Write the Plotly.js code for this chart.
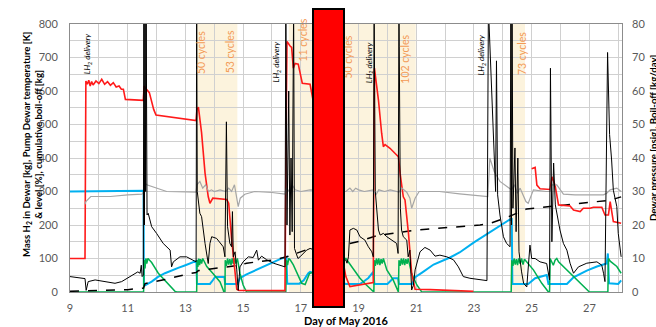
<!DOCTYPE html>
<html><head><meta charset="utf-8">
<script src="https://cdn.plot.ly/plotly-3.0.1.min.js"></script>
<style>html,body{margin:0;padding:0;background:#fff}#chart{width:656px;height:327px}</style>
</head><body><div id="chart"></div>
<script>
// Mass H2 in Dewar [kg] (red)
const massDays = [9,9.52,9.55,9.6,9.65,9.7,9.75,9.8,9.9,10.0,10.1,10.2,10.3,10.4,10.5,10.6,10.7,10.78,10.85,10.92,11.54,11.57,11.62,11.75,11.9,11.98,13.37,13.4,13.45,13.56,13.68,13.79,13.85,13.95,14.43,14.5,14.6,14.72,14.78,14.85,16.45,16.5,16.52,16.62,16.68,16.74,16.8,16.91,17.05,17.32,18.56,18.7,19.05,19.51,19.55,19.69,19.8,19.86,19.92,19.97,20.09,20.32,20.38,20.44,20.55,20.61,20.73,20.84,20.96,21.48,22.98,24.0,25.0,25.12,25.18,25.29,25.64,25.7,25.81,25.93,26.33,26.45,26.68,26.79,27.02,27.14,27.43,27.54,27.66,27.72,27.83,28.1];
const massKg = [100,100,630,620,632,615,628,618,630,622,635,620,628,617,625,612,615,605,605,575,572,615,608,595,545,528,512,545,552,475,355,285,265,280,276,265,160,66,8,5,4,573,748,735,730,668,682,680,623,620,46,16,21,28,668,573,474,434,440,437,429,409,404,354,284,275,175,56,8,7,2,null,368,372,319,308,306,344,319,260,257,245,240,250,250,253,253,230,230,270,210,205];

// Pump Dewar temperature [K] (blue)
const tempDays = [9,11.55,11.56,11.6,11.83,12.05,12.29,12.5,12.75,13.0,13.22,13.38,13.4,13.85,13.95,14.03,14.35,14.38,14.8,14.89,15.1,15.3,15.47,15.75,16.05,16.3,16.5,16.53,16.95,17.1,17.26,17.32,18.56,19.05,19.2,19.34,19.51,19.55,20.0,20.2,20.37,20.4,20.85,20.96,21.2,21.6,22.17,22.5,23.0,23.5,23.9,24.31,24.33,24.88,25.12,25.52,25.58,26.22,26.45,26.91,27.26,27.6,27.64,27.68,28.0,28.1];
const tempK = [300,302,22,20,31,45,56,64,72,80,87,93,24,24,35,45,45,24,24,41,52,60,67,79,90,99,105,25,25,35,56,60,24,24,33,42,60,24,24,41,41,24,24,44,58,82,103,118,148,175,198,220,24,24,41,51,24,24,44,64,76,85,115,26,24,35];

// Level [%] (green)
const levelDays = [9,11.55,11.57,11.6,11.63,11.66,11.7,11.83,12.06,12.25,12.41,12.64,12.7,13.39,13.4,13.43,13.46,13.49,13.52,13.56,13.6,13.74,13.97,14.2,14.31,14.33,14.37,14.38,14.42,14.46,14.5,14.54,14.58,14.62,14.66,14.7,14.75,14.8,14.89,15.0,15.12,16.48,16.5,16.54,16.58,16.63,16.74,16.87,17.03,17.15,17.3,18.56,18.6,18.82,19.05,19.28,19.51,19.53,19.55,19.58,19.62,19.66,19.7,19.74,19.78,19.82,19.86,19.98,20.2,20.38,20.4,20.44,20.48,20.52,20.56,20.6,20.64,20.68,20.72,20.76,20.84,21.02,21.19,24.29,24.31,24.35,24.39,24.43,24.47,24.51,24.55,24.6,24.65,24.7,24.75,25.06,25.35,25.58,25.62,25.64,25.7,25.75,25.81,25.87,25.93,26.22,26.56,27.0,27.64,27.66,27.72,27.95,28.1];
const levelPct = [0,0,95,70,100,85,100,88,56,38,24,2,0,0,95,75,100,80,98,85,100,76,54,30,6,0,0,95,78,100,82,98,80,100,84,100,85,100,56,21,0,0,95,80,100,96,81,56,26,22,55,100,95,66,41,20,2,0,95,78,100,82,100,80,98,85,100,66,36,0,95,78,100,82,100,80,98,84,100,82,55,21,0,0,95,78,100,82,98,80,100,84,100,82,98,66,26,0,0,100,88,80,95,100,90,66,36,0,0,100,92,76,56];

// Cumulative boil-off [kg] (black dashed)
const boilDays = [9,10,11,11.55,11.6,11.77,12.29,13.04,13.37,13.45,14.0,14.89,15.12,16.05,16.51,17.32,18.56,19.05,19.63,20.67,21.02,23.21,23.56,24.13,24.6,24.83,25.75,26.45,26.91,27.72,28.1];
const boilKg = [2,4,7,12,25,28,37,53,58,64,70,80,86,96,105,130,142,152,168,180,185,200,205,222,238,248,256,262,266,274,284];

// Dewar pressure [psig] (black, right axis)
const presDays = [9.0,9.2,9.4,9.52,9.56,9.6,9.63,9.87,10.21,10.56,10.79,10.95,11.08,11.25,11.35,11.43,11.47,11.5,11.54,11.56,11.58,11.6,11.62,11.64,11.67,11.71,11.83,12.0,12.23,12.47,12.52,12.58,12.81,13.04,13.27,13.37,13.39,13.41,13.5,13.56,13.68,13.74,13.79,13.85,13.91,14.08,14.31,14.37,14.42,14.46,14.54,14.6,14.63,14.66,14.72,14.78,14.83,14.89,15.0,15.18,15.35,15.47,15.53,15.64,15.82,16.05,16.28,16.45,16.48,16.52,16.58,16.62,16.66,16.7,16.75,16.78,16.9,16.97,17.2,17.32,18.56,18.6,18.65,18.7,18.82,18.94,19.05,19.22,19.34,19.46,19.51,19.54,19.58,19.63,19.69,19.75,19.86,19.98,20.15,20.32,20.37,20.4,20.45,20.49,20.55,20.67,20.72,20.78,20.84,20.9,20.96,21.13,21.3,21.48,21.65,21.82,22.06,22.29,22.46,22.63,22.86,23.21,23.45,23.5,23.55,23.6,23.67,23.75,23.78,23.82,23.9,24.02,24.13,24.25,24.28,24.3,24.32,24.35,24.42,24.46,24.52,24.56,24.65,24.72,24.83,24.94,25.0,25.12,25.29,25.52,25.62,25.65,25.7,25.76,25.82,25.87,25.98,26.1,26.22,26.33,26.45,26.62,26.91,27.26,27.43,27.49,27.54,27.63,27.66,27.7,27.77,27.83,27.95,28.0,28.1];
const presPsig = [4.6,4.3,4.1,4.0,0.5,2.0,3.1,3.6,3.1,2.6,3.1,4.0,4.6,5.6,6.0,5.6,8.0,4.6,5.0,85,20,85,30,85,23,23.5,19.5,17.5,14.5,12.5,7.5,9.0,10.5,10.5,9.6,9.0,85,30,23.5,22.5,14.5,10.5,8.5,14.5,16.5,16,13.5,10.5,50.8,19.5,14.5,13.5,24,10.5,12,6.6,0.5,7.5,9.0,10.5,10.3,12.5,9.5,10.7,9.6,8.6,8.1,7.5,85,20,60,17,40,18,85,13,10,10.5,12.5,13,9.5,8.6,10.5,18.5,19,18.5,16.5,15.5,13.5,12,10.5,85,30,23.5,18.5,17,17.5,16.5,15.5,14.5,11.5,85,25,18.5,16.5,15.5,10.5,12.5,0.6,2,6.6,12,13.3,12.5,10.7,11,10.5,9.6,7.5,4.6,4.1,3.6,3.4,85,75,60,47,30,69,29,23,16.5,14.5,13.5,85,20,85,25,43,18,40,12,6,2.6,1.5,14,10,10,9,8.5,3.6,66.8,15,38.5,26,23.5,18.5,14.5,12.5,8.6,5.6,7.5,8.6,9,8,5.6,3.1,71.5,62,47,39.4,30.4,25.5,17.5,10.5];

// Boil-off [kg/day] (grey, right axis)
const rateDays = [9.52,9.55,9.72,10.4,11.0,11.5,11.56,11.6,11.66,12.0,12.35,13.37,13.4,13.5,13.6,13.7,13.8,13.9,14.0,14.2,14.4,14.5,14.6,14.7,14.75,14.83,14.9,15.06,15.4,16.0,16.45,16.5,16.6,16.7,16.8,17.0,17.32,18.56,18.7,18.8,18.9,19.0,19.2,19.5,19.6,19.7,19.9,20.1,20.4,20.5,20.67,20.78,20.84,20.96,21.1,21.8,22.5,23.21,23.48,23.55,23.7,23.9,24.2,24.3,24.4,24.5,24.6,24.7,24.8,24.88,25.0,25.06,25.5,25.64,25.7,25.87,26.1,26.5,27.0,27.49,27.6,27.72,27.95,28.1];
const rateKgDay = [26.2,27,28.5,28.5,29,29.2,30,32.5,32,31,30,29.8,32,33,31,32,30,30.5,30,30.5,30,31,30,32,29,25.5,28,29.2,30,29.7,29.2,31,30,32,30.5,30,30.5,30,31,30,31,30.5,30,30.5,29,30.5,30,30.5,29.8,31,29.8,28,25,28,30,30,29.3,28.7,28.5,40,36,33,31,30.5,32,29.5,31,29,27,26.5,29.5,30.5,30,30,32,32,29.2,29,29,29,29.5,30.5,31,30];

// Shaded test-campaign periods and text labels
const bandStart = [13.40, 16.58, 24.25];
const bandEnd   = [14.80, 20.98, 24.77];
const noteText = ['LH<sub>2</sub> delivery','LH<sub>2</sub> delivery','LH<sub>2</sub> delivery','LH<sub>2</sub> delivery','50 cycles','53 cycles','11 cycles','50 cycles','102 cycles','73 cycles'];
const noteDay  = [9.62,16.17,19.36,23.27,13.56,14.55,17.09,18.6,20.58,24.66];
const noteVal  = [712,688,686,708,715,716,752,700,694,713];
const noteKind = ['d','d','d','d','c','c','c','c','c','c'];
const leftTitle = '<b>Mass H<sub>2</sub> in Dewar [kg], Pump Dewar temperature [K]<br>& level [%], cumulative boil-off [kg]</b>';
const rightTitle = '<b>Dewar pressure [psig], Boil-off [kg/day]</b>';

const FONT = 'Lato, "Open Sans", sans-serif';
const traces = [
  {x: rateDays, y: rateKgDay, yaxis:'y2', mode:'lines', line:{color:'#a6a6a6', width:1.2}, name:'Boil-off'},
  {x: tempDays, y: tempK, mode:'lines', line:{color:'#00b0f0', width:2}, name:'Pump Dewar temperature'},
  {x: levelDays, y: levelPct, mode:'lines', line:{color:'#00b050', width:1.5}, name:'Level'},
  {x: boilDays, y: boilKg, mode:'lines', line:{color:'#000', width:1.5, dash:'dash'}, name:'Cumulative boil-off'},
  {x: massDays, y: massKg, mode:'lines', line:{color:'#ff1a1a', width:1.6}, name:'Mass H2'},
  {x: presDays, y: presPsig, yaxis:'y2', mode:'lines', line:{color:'#000', width:1}, name:'Dewar pressure'}
];

const shapes = bandStart.map((s,i)=>({type:'rect', xref:'x', yref:'paper', x0:s, x1:bandEnd[i], y0:0, y1:1, fillcolor:'#fcf3dd', line:{width:0}, layer:'below'}));

const annotations = noteText.map((t,i)=>({
  x: noteDay[i], y: noteVal[i], xref:'x', yref:'y', text: noteKind[i]==='d' ? '<i>'+t+'</i>' : t,
  textangle:-90, showarrow:false,
  font: noteKind[i]==='d' ? {family:FONT, size:8, color:'#000'} : {family:FONT, size:10.5, color:'#f39a55'}
}));
// left axis title (two lines)
annotations.push({xref:'paper', yref:'paper', x:(32-70)/552, y:(292-145)/268, xanchor:'center', yanchor:'middle',
  text: leftTitle, textangle:-90, showarrow:false, font:{family:FONT, size:9.6, color:'#000'}});
// right axis title, placed at the page edge as in the reference
annotations.push({xref:'paper', yref:'paper', x:(653-70)/552, y:(292-138)/268, xanchor:'center', yanchor:'middle',
  text: rightTitle, textangle:-90, showarrow:false, font:{family:FONT, size:9.6, color:'#000'}});
// redaction box drawn over the chart
annotations.push({xref:'paper', yref:'paper', x:(328.5-70)/552, y:(292-157.5)/268, xanchor:'center', yanchor:'middle',
  text:'\u00a0', showarrow:false, width:29, height:296, bgcolor:'#ff0000', bordercolor:'#000', borderwidth:2, borderpad:0});

const gridC = '#d0d0d0', lineC = '#8c8c8c', tickC = '#595959';
const layout = {
  width:656, height:327, margin:{l:70, r:34, t:24, b:35},
  paper_bgcolor:'#fff', plot_bgcolor:'#fff', showlegend:false, font:{family:FONT},
  xaxis:{range:[9,28.13], tick0:9, dtick:2, showgrid:true, gridcolor:gridC, gridwidth:1,
    minor:{dtick:1, showgrid:true, gridcolor:gridC}, showline:true, mirror:true, linecolor:lineC, zeroline:false,
    ticks:'', ticklabelstandoff:6, tickfont:{size:11, color:tickC},
    title:{text:'<b>Day of May 2016</b>', font:{size:11, color:'#000'}, standoff:6}},
  yaxis:{range:[0,800], dtick:100, showgrid:true, gridcolor:gridC, minor:{dtick:50, showgrid:true, gridcolor:gridC},
    showline:true, mirror:true, linecolor:lineC, zeroline:false, ticks:'', ticklabelstandoff:9,
    tickfont:{size:11, color:tickC}},
  yaxis2:{range:[0,80], dtick:10, overlaying:'y', side:'right', showgrid:false, zeroline:false, showline:false,
    ticks:'', ticklabelstandoff:9, tickfont:{size:11, color:tickC}},
  shapes: shapes, annotations: annotations
};
Plotly.newPlot('chart', traces, layout, {displayModeBar:false, staticPlot:true});
</script></body></html>
